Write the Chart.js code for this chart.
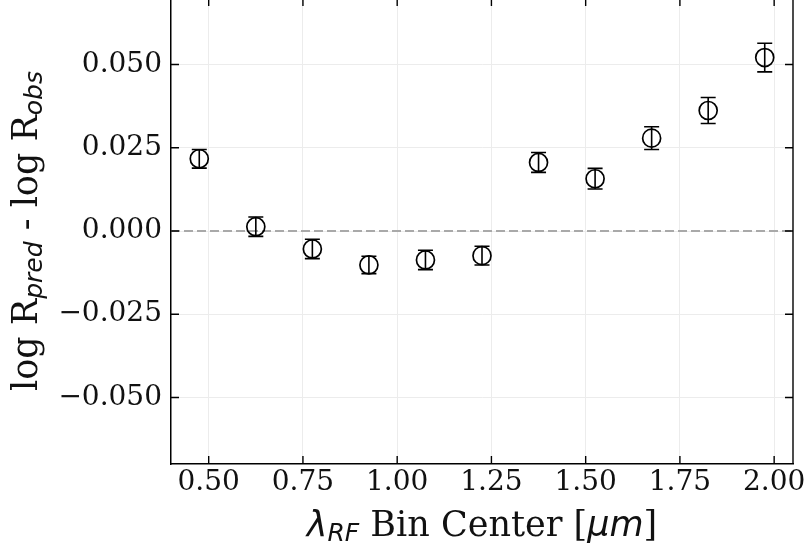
<!DOCTYPE html>
<html>
<head>
<meta charset="utf-8">
<script src="https://cdn.jsdelivr.net/npm/chart.js@4.4.1/dist/chart.umd.min.js"></script>
<style>
  html, body { margin: 0; padding: 0; background: #fff; overflow: hidden; }
  #wrap { position: relative; width: 805px; height: 548px; margin-top: -2px; }
</style>
</head>
<body>
<div id="wrap"><canvas id="chart" width="805" height="548"></canvas></div>
<script>
// bin centres in micron
const binCenter = [0.475, 0.625, 0.775, 0.925, 1.075, 1.225, 1.375, 1.525, 1.675, 1.825, 1.975];
// log R_pred - log R_obs
const residual = [0.0217, 0.0013, -0.0054, -0.0102, -0.0087, -0.0074, 0.0206, 0.0157, 0.0279, 0.0362, 0.0521];
const residualErr = [0.0028, 0.0029, 0.0029, 0.0026, 0.0029, 0.0028, 0.0030, 0.0031, 0.0034, 0.0039, 0.0043];

const xTicks = [0.5, 0.75, 1.0, 1.25, 1.5, 1.75, 2.0];
const yTicks = [-0.05, -0.025, 0, 0.025, 0.05];

// axis titles: pieces of [text, style] where style is "serif", "math" or "sub"
const xTitle = [["λ", "math"], ["RF", "sub"], [" Bin Center [", "serif"], ["μm", "math"], ["]", "serif"]];
const yTitle = [["log R", "serif"], ["pred", "sub"], [" - log R", "serif"], ["obs", "sub"]];

const TITLE_PX = 35;
const fonts = {
  serif: `${TITLE_PX}px "DejaVu Serif"`,
  math: `italic ${TITLE_PX}px "DejaVu Sans"`,
  sub: `italic ${Math.round(TITLE_PX * 0.7)}px "DejaVu Sans"`,
};

function drawRich(ctx, parts, cx, baseline) {
  let total = 0;
  for (const [t, s] of parts) { ctx.font = fonts[s]; total += ctx.measureText(t).width; }
  let x = cx - total / 2;
  ctx.textBaseline = "alphabetic";
  ctx.textAlign = "left";
  for (const [t, s] of parts) {
    ctx.font = fonts[s];
    ctx.fillText(t, x, baseline + (s === "sub" ? 5 : 0));
    x += ctx.measureText(t).width;
  }
}

const frame = {
  id: "frame",
  afterDatasetsDraw(chart) {
    const { ctx, scales: { x, y } } = chart;
    ctx.save();
    ctx.strokeStyle = "#000";
    ctx.lineWidth = 1.6;
    binCenter.forEach((bx, i) => {
      const px = x.getPixelForValue(bx);
      const top = y.getPixelForValue(residual[i] + residualErr[i]);
      const bot = y.getPixelForValue(residual[i] - residualErr[i]);
      ctx.beginPath();
      ctx.moveTo(px, top); ctx.lineTo(px, bot);
      ctx.moveTo(px - 7.5, top); ctx.lineTo(px + 7.5, top);
      ctx.moveTo(px - 7.5, bot); ctx.lineTo(px + 7.5, bot);
      ctx.stroke();
    });
    ctx.restore();
  },
  afterDraw(chart) {
    const { ctx, chartArea: a, scales: { x, y } } = chart;
    ctx.save();
    ctx.strokeStyle = "#000";
    ctx.lineWidth = 1.4;
    ctx.beginPath();
    ctx.moveTo(a.right, a.top); ctx.lineTo(a.right, a.bottom);
    const len = 8;
    for (const v of xTicks) {
      const px = x.getPixelForValue(v);
      ctx.moveTo(px, a.bottom); ctx.lineTo(px, a.bottom - len);
      ctx.moveTo(px, a.top); ctx.lineTo(px, a.top + len);
    }
    for (const v of yTicks) {
      const py = y.getPixelForValue(v);
      ctx.moveTo(a.left, py); ctx.lineTo(a.left + len, py);
      ctx.moveTo(a.right, py); ctx.lineTo(a.right - len, py);
    }
    ctx.stroke();

    ctx.fillStyle = "#111";
    drawRich(ctx, xTitle, (a.left + a.right) / 2, 538);
    ctx.translate(37, (a.top + a.bottom) / 2);
    ctx.rotate(-Math.PI / 2);
    drawRich(ctx, yTitle, 0, 0);
    ctx.restore();
  },
};

const tickFont = { family: "DejaVu Serif", size: 28 };

new Chart(document.getElementById("chart"), {
  type: "scatter",
  data: {
    datasets: [
      {
        data: binCenter.map((v, i) => ({ x: v, y: residual[i] })),
        pointStyle: "circle",
        pointRadius: 9,
        pointBorderWidth: 1.7,
        borderColor: "#000",
        backgroundColor: "rgba(0,0,0,0)",
      },
      {
        type: "line",
        data: [{ x: 0.40, y: 0 }, { x: 2.05, y: 0 }],
        borderColor: "#a9a9a9",
        borderWidth: 2,
        borderDash: [9, 4],
        pointRadius: 0,
      },
    ],
  },
  options: {
    responsive: false,
    animation: false,
    layout: { autoPadding: false, padding: { left: 0, right: 12, top: 0, bottom: 0 } },
    plugins: { legend: { display: false }, tooltip: { enabled: false } },
    scales: {
      x: {
        type: "linear",
        min: 0.40,
        max: 2.05,
        afterBuildTicks: (s) => { s.ticks = xTicks.map((v) => ({ value: v })); },
        afterFit: (s) => { s.height = 82; s.paddingLeft = 0; s.paddingRight = 0; },
        ticks: {
          font: tickFont, color: "#111", padding: 2, autoSkip: false, maxRotation: 0,
          callback: (v) => Number(v).toFixed(2),
        },
        grid: { color: "#ececec", lineWidth: 1, drawTicks: false },
        border: { color: "#000", width: 1.5 },
      },
      y: {
        min: -0.07,
        max: 0.07,
        afterBuildTicks: (s) => { s.ticks = yTicks.map((v) => ({ value: v })); },
        afterFit: (s) => { s.width = 171; s.paddingTop = 0; s.paddingBottom = 0; },
        ticks: {
          font: tickFont, color: "#111", padding: 9,
          callback: (v) => Number(v).toFixed(3).replace("-", "\u2212"),
        },
        grid: { color: "#ececec", lineWidth: 1, drawTicks: false },
        border: { color: "#000", width: 1.5 },
      },
    },
  },
  plugins: [frame],
});
</script>
</body>
</html>
